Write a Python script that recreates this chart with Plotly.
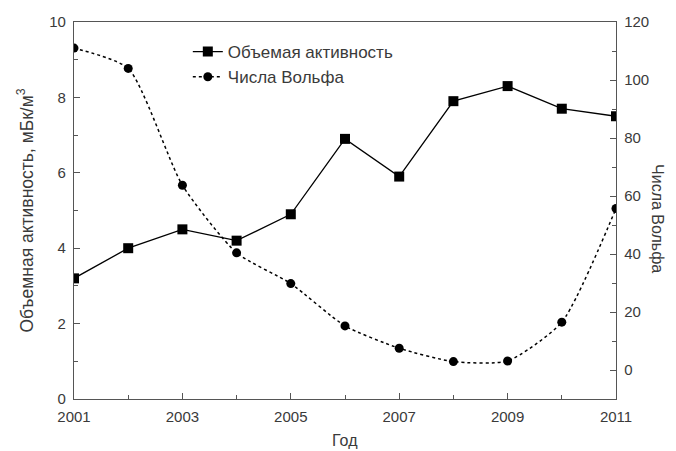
import plotly.graph_objects as go

years = [2001, 2002, 2003, 2004, 2005, 2006, 2007, 2008, 2009, 2010, 2011]
activity = [3.2, 4.0, 4.5, 4.2, 4.9, 6.9, 5.9, 7.9, 8.3, 7.7, 7.5]
wolf = [111.0, 104.0, 63.7, 40.4, 29.8, 15.2, 7.5, 2.9, 3.1, 16.5, 55.7]

activity_name = "Объемая активность"
wolf_name = "Числа Вольфа"
left_title = "Объемная активность, мБк/м<sup>3</sup>"
right_title = "Числа Вольфа"
x_title = "Год"

FONT = "Liberation Sans, Arial, sans-serif"
TEXT = "#3a3a3a"
AXIS = "#555555"

fig = go.Figure()
fig.add_trace(go.Scatter(
    x=years, y=activity, name=activity_name, mode="lines+markers",
    line=dict(color="black", width=1.3),
    marker=dict(symbol="square", size=10, color="black"),
    yaxis="y",
))
fig.add_trace(go.Scatter(
    x=years, y=wolf, name=wolf_name, mode="lines+markers",
    line=dict(color="black", width=1.5, dash="dot", shape="spline", smoothing=0.6),
    marker=dict(symbol="circle", size=9, color="black"),
    yaxis="y2",
))

common_axis = dict(
    showgrid=False, zeroline=False, showline=True, linecolor=AXIS, linewidth=1.3,
    ticks="inside", ticklen=6, tickwidth=1.2, tickcolor=AXIS,
    tickfont=dict(family=FONT, size=15, color=TEXT),
)

fig.update_layout(
    width=676, height=451,
    margin=dict(l=74, r=60, t=22, b=52),
    paper_bgcolor="white", plot_bgcolor="white",
    font=dict(family=FONT, color=TEXT),
    xaxis=dict(
        range=[2001, 2011], tickvals=[2001, 2003, 2005, 2007, 2009, 2011],
        mirror=True, ticklabelstandoff=4,
        minor=dict(tickvals=[2002, 2004, 2006, 2008, 2010], ticks="inside", ticklen=4,
                   tickcolor=AXIS, tickwidth=1.2),
        **common_axis,
    ),
    yaxis=dict(
        range=[0, 10], dtick=2, tick0=0,
        minor=dict(dtick=1, ticks="inside", ticklen=4, tickcolor=AXIS, tickwidth=1.2),
        ticklabelstandoff=4,
        **common_axis,
    ),
    yaxis2=dict(
        range=[-10, 120], dtick=20, tick0=0, overlaying="y", side="right",
        minor=dict(dtick=10, ticks="inside", ticklen=4, tickcolor=AXIS, tickwidth=1.2),
        ticklabelstandoff=4,
        **common_axis,
    ),
    legend=dict(
        x=0.21, y=0.968, xanchor="left", yanchor="top",
        bgcolor="rgba(0,0,0,0)", borderwidth=0,
        font=dict(family=FONT, size=17, color=TEXT),
        tracegroupgap=0, itemwidth=30,
    ),
    showlegend=True,
    annotations=[
        dict(text=left_title, xref="paper", yref="paper", x=-0.0904, y=0.5,
             xanchor="center", yanchor="middle", textangle=-90, showarrow=False,
             font=dict(family=FONT, size=17.5, color=TEXT)),
        dict(text=right_title, xref="paper", yref="paper", x=1.0775, y=0.48,
             xanchor="center", yanchor="middle", textangle=90, showarrow=False,
             font=dict(family=FONT, size=16, color=TEXT)),
        dict(text=x_title, xref="paper", yref="paper", x=0.5, y=-0.109,
             xanchor="center", yanchor="middle", showarrow=False,
             font=dict(family=FONT, size=16, color=TEXT)),
    ],
)

fig.write_html("out.html")
